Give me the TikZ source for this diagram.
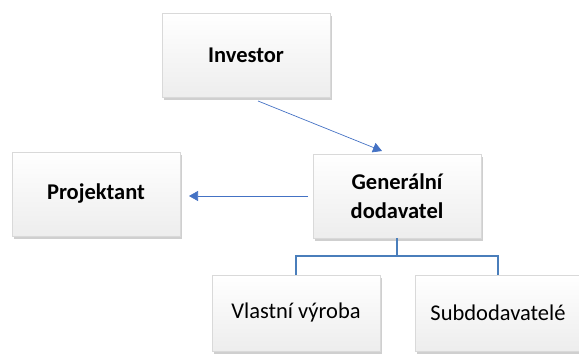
\documentclass[tikz,border=0pt]{standalone}
\usepackage{fontspec}
\setmainfont{Carlito}
\usetikzlibrary{shadows,arrows.meta}
\definecolor{lineblue}{HTML}{4472C4}
\definecolor{treeblue}{HTML}{4A7EBB}
\tikzset{
  box/.style={draw=gray!30, line width=0.3pt, top color=white, bottom color=gray!14,
    minimum width=168pt, minimum height=84pt, inner sep=0pt, align=center,
    font=\fontsize{22.5}{27}\selectfont,
    drop shadow={shadow xshift=2pt, shadow yshift=-3pt, opacity=0.5, fill=gray!75}},
  boldbox/.style={box, font=\fontsize{22.5}{28.5}\selectfont\bfseries},
  conn/.style={draw=lineblue, line width=0.7pt, -{Triangle[length=9pt,width=10pt]}},
  tree/.style={draw=treeblue, line width=2pt}
}
\begin{document}
\begin{tikzpicture}[x=1pt,y=-1pt]
\useasboundingbox (0,0) rectangle (579,358);
\node[boldbox] (inv) at (246,55) {Investor};
\node[boldbox] (proj) at (96,194) {Projektant};
\node[boldbox] (gen) at (397,196) {Generální\\dodavatel};
\node[box, minimum height=76pt] (vv) at (296,313) {Vlastní výroba};
\node[box, minimum height=76pt, minimum width=166pt] (sub) at (498,313) {Subdodavatelé};
\coordinate (s1) at (258,101);
\coordinate (e1) at (382,151);
\draw[conn] (s1) -- (e1);
\coordinate (s2) at (308,196);
\coordinate (e2) at (189,196);
\draw[conn] (s2) -- (e2);
\coordinate (j) at (397,256);
\draw[tree] (gen.south) -- (j);
\draw[tree] (vv.north) |- (j) -| (sub.north);
\end{tikzpicture}
\end{document}
